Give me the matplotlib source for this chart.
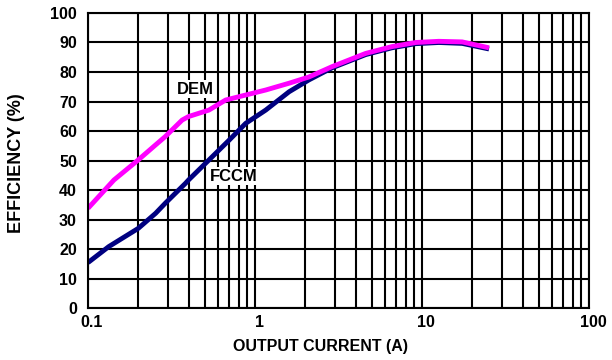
import numpy as np
import matplotlib.pyplot as plt
from matplotlib.ticker import FixedLocator, NullFormatter
import matplotlib.transforms as mtransforms

plt.rcParams['font.family'] = ['Liberation Sans', 'DejaVu Sans']
plt.rcParams['font.weight'] = 'bold'

# Efficiency curves (output current in A, efficiency in %)
dem_current = [0.1, 0.143, 0.2, 0.254, 0.29, 0.366, 0.40, 0.53, 0.667, 0.88,
               1.16, 1.6, 2.1, 2.89, 4.6, 6.6, 9.16, 12.6, 17.4, 25.2]
dem_eff = [33.8, 43.4, 50.2, 55.3, 58.1, 63.7, 64.9, 67.1, 70.5, 72.2,
           73.9, 76.2, 78.3, 81.8, 86.3, 88.6, 90.0, 90.4, 90.2, 88.2]

fccm_current = [0.1, 0.133, 0.2, 0.254, 0.29, 0.384, 0.40, 0.555, 0.70, 0.88,
                1.16, 1.6, 2.1, 2.89, 4.6, 6.6, 9.16, 12.6, 17.4, 25.2]
fccm_eff = [15.4, 20.8, 27.0, 32.1, 35.5, 42.3, 43.4, 51.3, 56.9, 62.6,
            67.1, 73.3, 77.3, 81.4, 85.9, 88.2, 89.6, 90.0, 89.7, 87.8]

x_ticks = [0.1, 1, 10, 100]
x_ticklabels = ['0.1', '1', '10', '100']
y_ticks = list(range(0, 101, 10))

fig = plt.figure(figsize=(6.12, 3.6), dpi=100)
ax = fig.add_axes([0.1438, 0.1444, 0.9624 - 0.1438, 0.9639 - 0.1444])

ax.set_xscale('log')
ax.set_xlim(0.1, 100)
ax.set_ylim(0, 100)

minor = [m * d for d in (0.1, 1, 10) for m in range(2, 10)]
ax.xaxis.set_major_locator(FixedLocator(x_ticks))
ax.xaxis.set_minor_locator(FixedLocator(minor))
ax.xaxis.set_minor_formatter(NullFormatter())
ax.set_xticks(x_ticks)
ax.set_xticklabels(x_ticklabels)
ax.set_yticks(y_ticks)

ax.grid(True, which='both', axis='x', color='black', linewidth=1.5)
ax.grid(True, which='major', axis='y', color='black', linewidth=1.5)
ax.set_axisbelow(True)
for s in ax.spines.values():
    s.set_linewidth(1.5)
ax.tick_params(which='both', length=0, labelsize=11.5, pad=5)
ax.tick_params(axis='y', pad=8)

# nudge x tick labels a little to the right
shift = mtransforms.ScaledTranslation(4 / 100, 0, fig.dpi_scale_trans)
for lbl in ax.get_xticklabels():
    lbl.set_transform(lbl.get_transform() + shift)

ax.plot(fccm_current, fccm_eff, color='#000080', linewidth=3.5, solid_capstyle='butt')
ax.plot(dem_current, dem_eff, color='#FF00FF', linewidth=3.5, solid_capstyle='butt')

box = dict(facecolor='white', edgecolor='none', pad=1)
ax.text(0.437, 74.2, 'DEM', fontsize=12, fontweight='bold', ha='center', va='center', bbox=box, zorder=5)
ax.text(0.749, 44.7, 'FCCM', fontsize=12, fontweight='bold', ha='center', va='center', bbox=box, zorder=5)

ax.set_xlabel('OUTPUT CURRENT (A)', fontsize=11.5, fontweight='bold')
ax.set_ylabel('EFFICIENCY (%)', fontsize=13, fontweight='bold')
ax.xaxis.set_label_coords(0.465, -0.105)
ax.yaxis.set_label_coords(-0.125, 0.49)

fig.savefig('out.png', dpi=100)
